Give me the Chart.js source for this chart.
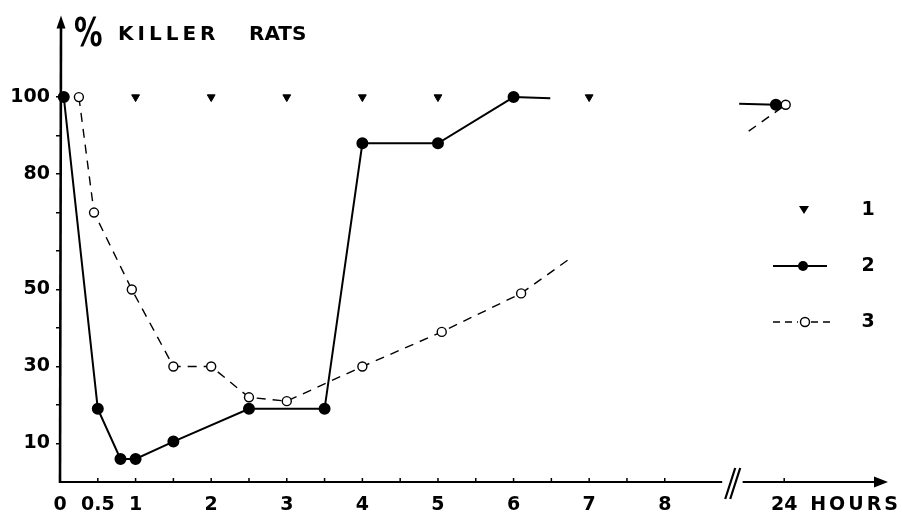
<!DOCTYPE html>
<html>
<head>
<meta charset="utf-8">
<script src="https://cdn.jsdelivr.net/npm/chart.js@4"></script>
<style>
  html, body { margin: 0; padding: 0; background: #fff; }
</style>
</head>
<body>
<canvas id="chart" width="902" height="512"></canvas>
<script>
// hours after treatment (24 sits after the axis break)
const killerHours = [1, 2, 3, 4, 5, 7];
const killerPct   = [100, 100, 100, 100, 100, 100];

const s2Hours = [0.05, 0.5, 0.8, 1, 1.5, 2.5, 3.5, 4, 5, 6, 24];
const s2Pct   = [100, 19, 6, 6, 10.5, 19, 19, 88, 88, 100, 98];

const s3Hours = [0.25, 0.45, 0.95, 1.5, 2, 2.5, 3, 4, 5.05, 6.1, 24];
const s3Pct   = [100, 70, 50, 30, 30, 22, 21, 30, 39, 49, 98];

const xTickLabels = [0, 0.5, 1, 2, 3, 4, 5, 6, 7, 8, 24];
const xMinorTicks = [0.5, 1, 1.5, 2, 2.5, 3, 3.5, 4, 4.5, 5, 5.5, 6, 6.5, 7, 7.5, 8, 24];
const yTickLabels = [10, 30, 50, 80, 100];
const yMinorTicks = [10, 20, 30, 40, 50, 60, 70, 80, 90, 100];
const legendLabels = ['1', '2', '3'];

// axis layout: 24 h drawn just after the break
const BREAK_POS = 9.58;
const BREAK_FROM = 8.76, BREAK_TO = 9.03;
function xPos(h, nudge) { return h > 8 ? BREAK_POS + (nudge || 0) : h; }

const FONT = '"DejaVu Sans", sans-serif';

// long gap in the last segment (the line jumps across the break)
function gapDash(ctx, from, to, dash) {
  const len = Math.hypot(ctx.p1.x - ctx.p0.x, ctx.p1.y - ctx.p0.y);
  if (!dash) return [len * from, len * (to - from), len];
  const out = [];
  let d = 0;
  while (d + dash[0] < len * from) { out.push(dash[0], dash[1]); d += dash[0] + dash[1]; }
  out.push(dash[0], len * to - d - dash[0]);
  let r = len * (1 - to);
  while (r > 0) { out.push(dash[0], dash[1]); r -= dash[0] + dash[1]; }
  return out;
}

const decor = {
  id: 'decor',
  beforeDatasetsDraw(chart) {
    const { ctx, chartArea: a, scales: { x } } = chart;
    ctx.save();
    ctx.strokeStyle = '#000';
    ctx.fillStyle = '#000';
    // y axis + arrow
    ctx.lineWidth = 2.6;
    ctx.beginPath();
    ctx.moveTo(a.left, a.bottom + 1);
    ctx.lineTo(a.left + 1, a.top + 8);
    ctx.stroke();
    ctx.beginPath();
    ctx.moveTo(a.left + 1, a.top - 2);
    ctx.lineTo(a.left - 3.5, a.top + 11);
    ctx.lineTo(a.left + 5.5, a.top + 11);
    ctx.closePath();
    ctx.fill();
    // x axis with break + arrow
    ctx.lineWidth = 2.2;
    ctx.beginPath();
    ctx.moveTo(a.left, a.bottom);
    ctx.lineTo(x.getPixelForValue(BREAK_FROM), a.bottom);
    ctx.moveTo(x.getPixelForValue(BREAK_TO), a.bottom);
    ctx.lineTo(a.right - 10, a.bottom);
    ctx.stroke();
    ctx.beginPath();
    ctx.moveTo(a.right + 1, a.bottom);
    ctx.lineTo(a.right - 13, a.bottom - 5.5);
    ctx.lineTo(a.right - 13, a.bottom + 5.5);
    ctx.closePath();
    ctx.fill();
    // break marks //
    const bx = x.getPixelForValue(BREAK_FROM);
    ctx.lineWidth = 2.2;
    ctx.beginPath();
    ctx.moveTo(bx + 3, a.bottom + 17);
    ctx.lineTo(bx + 13, a.bottom - 14);
    ctx.moveTo(bx + 8, a.bottom + 17);
    ctx.lineTo(bx + 18, a.bottom - 14);
    ctx.stroke();
    // small inward ticks on x
    ctx.lineWidth = 1.5;
    ctx.beginPath();
    xMinorTicks.forEach(h => {
      const px = x.getPixelForValue(xPos(h));
      ctx.moveTo(px, a.bottom);
      ctx.lineTo(px, a.bottom - 4);
    });
    ctx.stroke();
    ctx.restore();
  },
  afterDraw(chart) {
    const { ctx, chartArea: a, scales: { x } } = chart;
    ctx.save();
    ctx.fillStyle = '#000';
    ctx.strokeStyle = '#000';
    // y title
    ctx.textBaseline = 'alphabetic';
    ctx.textAlign = 'left';
    ctx.save();
    ctx.translate(a.left + 14, 46);
    ctx.scale(0.95, 1.3);
    ctx.font = 'bold 30px ' + FONT;
    ctx.fillText('%', 0, 0);
    ctx.restore();
    ctx.font = 'bold 20px ' + FONT;
    ctx.letterSpacing = '4px';
    ctx.fillText('KILLER', 118, 40);
    ctx.letterSpacing = '0px';
    ctx.fillText('RATS', 249, 40);
    // x title
    ctx.font = 'bold 19px ' + FONT;
    ctx.letterSpacing = '3px';
    ctx.fillText('HOURS', x.getPixelForValue(BREAK_POS) + 26, 510);
    ctx.letterSpacing = '0px';

    // legend
    const lx = a.right - 114, tx = a.right - 19;
    const rows = [210, 266, 322];
    ctx.beginPath();
    ctx.moveTo(lx + 26, rows[0] - 4);
    ctx.lineTo(lx + 36, rows[0] - 4);
    ctx.lineTo(lx + 31, rows[0] + 4);
    ctx.closePath();
    ctx.fill();

    ctx.lineWidth = 2;
    ctx.beginPath();
    ctx.moveTo(lx, rows[1]);
    ctx.lineTo(lx + 54, rows[1]);
    ctx.stroke();
    ctx.beginPath();
    ctx.arc(lx + 30, rows[1], 5, 0, Math.PI * 2);
    ctx.fill();

    ctx.lineWidth = 1.4;
    ctx.setLineDash([7, 5]);
    ctx.beginPath();
    ctx.moveTo(lx, rows[2]);
    ctx.lineTo(lx + 25, rows[2]);
    ctx.moveTo(lx + 38, rows[2]);
    ctx.lineTo(lx + 62, rows[2]);
    ctx.stroke();
    ctx.setLineDash([]);
    ctx.beginPath();
    ctx.arc(lx + 32, rows[2], 4.5, 0, Math.PI * 2);
    ctx.fillStyle = '#fff';
    ctx.fill();
    ctx.stroke();

    ctx.fillStyle = '#000';
    ctx.font = 'bold 19px ' + FONT;
    ctx.textAlign = 'center';
    ctx.textBaseline = 'middle';
    legendLabels.forEach((t, i) => ctx.fillText(t, tx, rows[i]));
    ctx.restore();
  }
};

new Chart(document.getElementById('chart'), {
  type: 'line',
  data: {
    datasets: [
      {
        label: legendLabels[0],
        data: killerHours.map((h, i) => ({ x: xPos(h), y: killerPct[i] })),
        showLine: false,
        pointStyle: 'triangle',
        rotation: 180,
        pointRadius: 4.5,
        pointBackgroundColor: '#000',
        pointBorderColor: '#000',
        order: 3
      },
      {
        label: legendLabels[1],
        data: s2Hours.map((h, i) => ({ x: xPos(h, -0.11), y: s2Pct[i] })),
        borderColor: '#000',
        borderWidth: 2,
        pointRadius: 5,
        pointBackgroundColor: '#000',
        pointBorderColor: '#000',
        segment: {
          borderDash: ctx => ctx.p1DataIndex === s2Hours.length - 1 ? gapDash(ctx, 0.14, 0.86, null) : undefined
        },
        order: 2
      },
      {
        label: legendLabels[2],
        data: s3Hours.map((h, i) => ({ x: xPos(h, 0.02), y: s3Pct[i] })),
        borderColor: '#000',
        borderWidth: 1.4,
        borderDash: [9, 7],
        pointRadius: 4.5,
        pointBorderWidth: 1.4,
        pointBackgroundColor: '#fff',
        pointBorderColor: '#000',
        segment: {
          borderDash: ctx => ctx.p1DataIndex === s3Hours.length - 1 ? gapDash(ctx, 0.15, 0.86, [9, 7]) : undefined
        },
        order: 1
      }
    ]
  },
  options: {
    responsive: false,
    animation: false,
    clip: false,
    layout: { padding: { top: 15, right: 15, left: 0, bottom: 0 } },
    plugins: { legend: { display: false }, tooltip: { enabled: false } },
    scales: {
      x: {
        type: 'linear',
        min: 0,
        max: 10.94,
        border: { display: false },
        grid: { display: false },
        afterBuildTicks: s => { s.ticks = xTickLabels.map(h => ({ value: xPos(h) })); },
        afterFit: s => { s.height = 30; },
        ticks: {
          autoSkip: false,
          maxRotation: 0,
          minRotation: 0,
          padding: 4,
          color: '#000',
          font: { family: FONT, weight: 'bold', size: 19 },
          callback: v => v === BREAK_POS ? '24' : String(v)
        }
      },
      y: {
        min: 0,
        max: 120.7,
        border: { display: false },
        grid: { drawOnChartArea: false, drawTicks: true, tickLength: 4, color: '#000', lineWidth: 1.5 },
        afterBuildTicks: s => { s.ticks = yMinorTicks.map(v => ({ value: v })); },
        afterFit: s => { s.width = 60; },
        ticks: {
          autoSkip: false,
          padding: 6,
          color: '#000',
          font: { family: FONT, weight: 'bold', size: 19 },
          callback: v => yTickLabels.includes(v) ? String(v) : ''
        }
      }
    }
  },
  plugins: [decor]
});
</script>
</body>
</html>
